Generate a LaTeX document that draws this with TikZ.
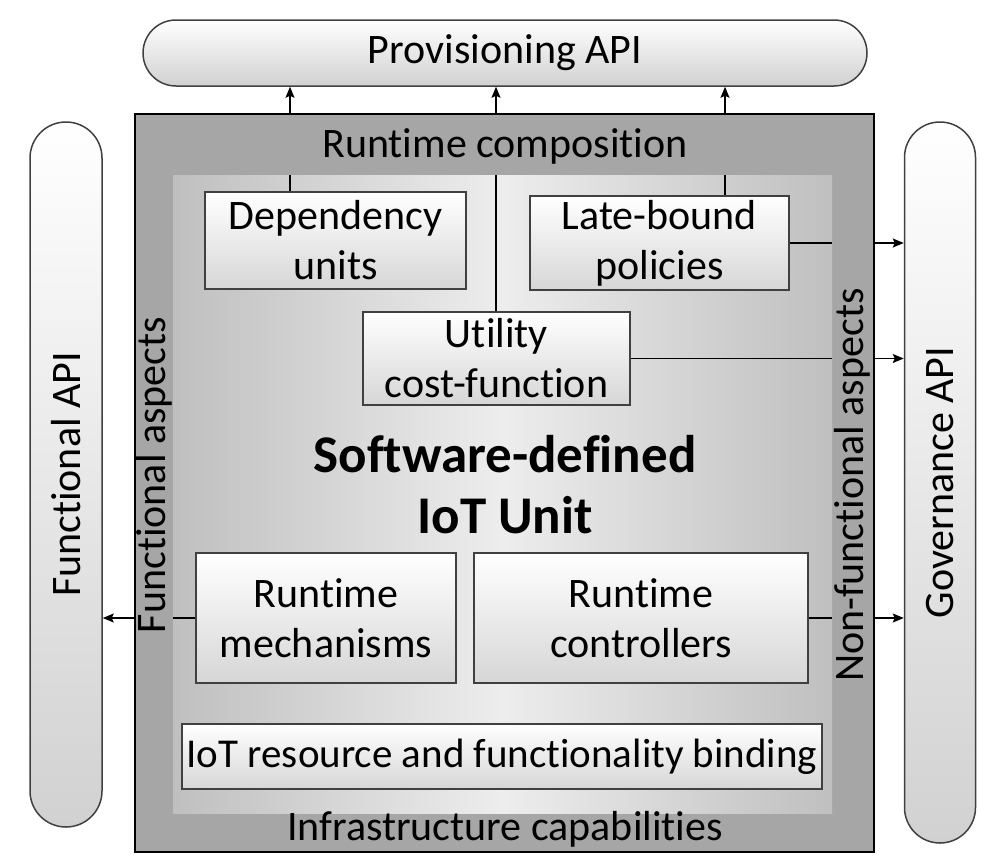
\documentclass[tikz,border=0pt]{standalone}
\usepackage{fontspec}
\setmainfont{Carlito}[Ligatures=NoCommon]
\usetikzlibrary{arrows.meta,shapes.misc,calc}

\tikzset{
  unitbox/.style={draw=black!75, line width=1.5pt, top color=white, bottom color=black!16, align=center, inner sep=0pt},
  apipill/.style={rounded rectangle, draw=black!75, line width=1.5pt, top color=white, bottom color=black!18, inner sep=0pt},
  link/.style={line width=1.4pt},
  feed/.style={line width=1.4pt, -{Stealth[length=11pt,width=9pt,inset=2pt]}},
}

\begin{document}
\begin{tikzpicture}[x=1pt,y=-1pt,font=\fontsize{42}{50}\selectfont]
\useasboundingbox (0,0) rectangle (988,855);

% APIs
\node[apipill, minimum width=724pt, minimum height=66pt] (prov) at (505,53) {Provisioning API};
\node[apipill, rotate=90, minimum width=705pt, minimum height=72pt] (func) at (66,474.5) {Functional API};
\node[apipill, rotate=90, minimum width=721pt, minimum height=71pt] (gov) at (940,482.5) {Governance API};

% the unit itself
\node[draw, line width=2pt, fill=black!35, minimum width=739pt, minimum height=738pt] (outer) at (504.5,483) {};
\node[left color=black!25, right color=black!25, middle color=black!7, minimum width=659pt, minimum height=638pt] (inner) at (502.5,494) {};

\node (comp) at (505,146) {Runtime composition};
\node (infra) at (505,829) {Infrastructure capabilities};
\node[rotate=90] (funasp) at (154,475) {Functional aspects};
\node[rotate=90] (nfasp) at (852,485) {Non-functional aspects};
\node[align=center, font=\bfseries\fontsize{53}{61}\selectfont] (title) at (505,485) {Software-defined\\IoT Unit};

% parts
\node[unitbox, minimum width=261pt, minimum height=97pt] (dep) at (335.5,240.5) {Dependency\\units};
\node[unitbox, minimum width=259pt, minimum height=94pt] (late) at (659.5,243) {Late-bound\\policies};
\node[unitbox, minimum width=267pt, minimum height=93pt] (util) at (496.5,358.5) {Utility\\cost-function};
\node[unitbox, minimum width=260pt, minimum height=130pt] (mech) at (326,618) {Runtime\\mechanisms};
\node[unitbox, minimum width=334pt, minimum height=130pt] (ctrl) at (641,618) {Runtime\\controllers};
\node[unitbox, minimum width=640pt, minimum height=65pt, font=\fontsize{41}{50}\selectfont] (bind) at (502,756.5) {IoT resource and functionality binding};

% links
\coordinate (c1) at (290,0);
\coordinate (c2) at (496,0);
\coordinate (c3) at (725,0);
\draw[link] (dep.north -| c1) -- (inner.north -| c1);
\draw[link] (util.north -| c2) -- (inner.north -| c2);
\draw[link] (late.north -| c3) -- (inner.north -| c3);
\draw[feed] (outer.north -| c1) -- (prov.south -| c1);
\draw[feed] (outer.north -| c2) -- (prov.south -| c2);
\draw[feed] (outer.north -| c3) -- (prov.south -| c3);

\draw[link] (late.east) -- (late.east -| inner.east);
\draw[feed] (late.east -| outer.east) -- (late.east -| gov.north);
\draw[link] (util.east) -- (util.east -| inner.east);
\draw[feed] (util.east -| outer.east) -- (util.east -| gov.north);
\draw[link] (ctrl.east) -- (ctrl.east -| inner.east);
\draw[feed] (ctrl.east -| outer.east) -- (ctrl.east -| gov.north);
\draw[link] (mech.west) -- (mech.west -| inner.west);
\draw[feed] (mech.west -| outer.west) -- (mech.west -| func.south);
\end{tikzpicture}
\end{document}
